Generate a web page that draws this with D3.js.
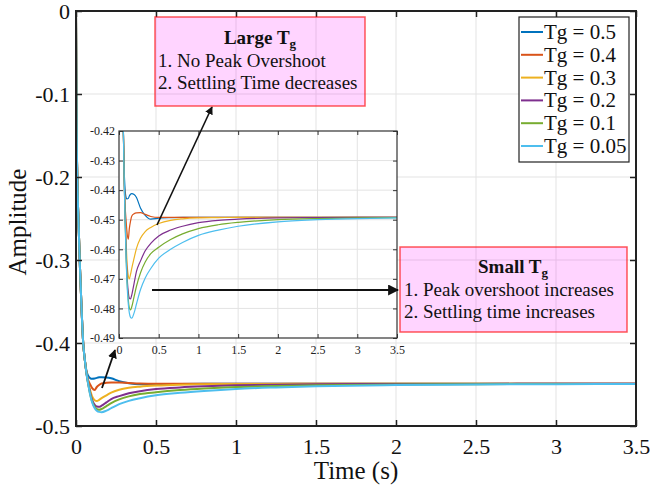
<!DOCTYPE html>
<html>
<head>
<meta charset="utf-8">
<script src="https://cdn.jsdelivr.net/npm/d3@7"></script>
<style>
  body { margin: 0; background: #fff; }
  svg { font-family: "Liberation Serif", "Times New Roman", serif; }
</style>
</head>
<body>
<svg width="650" height="491"></svg>
<script>
// Time samples (s)
const time = [0, 0.003, 0.008, 0.015, 0.025, 0.035, 0.045, 0.055, 0.065, 0.075, 0.09, 0.1, 0.117, 0.13, 0.145, 0.16, 0.19, 0.22, 0.27, 0.33, 0.4, 0.5, 0.65, 0.8, 1.0, 1.25, 1.5, 2.0, 2.5, 3.0, 3.5];

// Step responses
const tg05 = [0, -0.12, -0.2, -0.25, -0.31, -0.36, -0.40, -0.42, -0.433, -0.439, -0.4425, -0.443, -0.4428, -0.442, -0.4414, -0.4412, -0.4415, -0.4425, -0.446, -0.4485, -0.4498, -0.4495, -0.4493, -0.4492, -0.4492, -0.4492, -0.4492, -0.4492, -0.4492, -0.4492, -0.4492];
const tg04 = [0, -0.12, -0.2, -0.25, -0.31, -0.36, -0.40, -0.42, -0.435, -0.444, -0.4505, -0.454, -0.4566, -0.453, -0.4505, -0.4488, -0.448, -0.4477, -0.4476, -0.4482, -0.4489, -0.4492, -0.4492, -0.4492, -0.4492, -0.4492, -0.4492, -0.4492, -0.4492, -0.4492, -0.4492];
const tg03 = [0, -0.12, -0.2, -0.25, -0.31, -0.36, -0.40, -0.42, -0.435, -0.446, -0.458, -0.464, -0.469, -0.470, -0.4685, -0.4665, -0.463, -0.4597, -0.4563, -0.454, -0.4526, -0.4513, -0.4502, -0.4497, -0.4494, -0.4493, -0.4492, -0.4492, -0.4492, -0.4492, -0.4492];
const tg02 = [0, -0.12, -0.2, -0.25, -0.31, -0.36, -0.40, -0.42, -0.436, -0.447, -0.461, -0.468, -0.4745, -0.4765, -0.4768, -0.4755, -0.4715, -0.4675, -0.464, -0.4605, -0.458, -0.4555, -0.4535, -0.4522, -0.451, -0.4502, -0.4498, -0.4494, -0.4493, -0.4492, -0.4492];
const tg01 = [0, -0.12, -0.2, -0.25, -0.31, -0.36, -0.40, -0.42, -0.436, -0.448, -0.463, -0.470, -0.477, -0.4798, -0.4805, -0.4795, -0.476, -0.4725, -0.468, -0.4643, -0.4615, -0.4593, -0.4567, -0.4548, -0.453, -0.4517, -0.4509, -0.45, -0.4496, -0.4494, -0.4493];
const tg005 = [0, -0.12, -0.2, -0.25, -0.31, -0.36, -0.40, -0.42, -0.436, -0.448, -0.4635, -0.471, -0.4785, -0.4815, -0.483, -0.4833, -0.4815, -0.4785, -0.4737, -0.4697, -0.4665, -0.463, -0.46, -0.4577, -0.4553, -0.4535, -0.4522, -0.4507, -0.45, -0.4496, -0.4494];

const seriesNames = ["Tg = 0.5", "Tg = 0.4", "Tg = 0.3", "Tg = 0.2", "Tg = 0.1", "Tg = 0.05"];
const seriesValues = [tg05, tg04, tg03, tg02, tg01, tg005];
const colors = ["#0072BD", "#D95319", "#EDB120", "#7E2F8E", "#77AC30", "#4DBEEE"];

const xTicks = [0, 0.5, 1, 1.5, 2, 2.5, 3, 3.5];
const yTicks = [0, -0.1, -0.2, -0.3, -0.4, -0.5];
const insetYTicks = [-0.42, -0.43, -0.44, -0.45, -0.46, -0.47, -0.48, -0.49];

const series = seriesNames.map((name, i) => ({
    name: name,
    color: colors[i],
    points: time.map((t, j) => [t, seriesValues[i][j]])
}));

const svg = d3.select("svg");
const gridColor = "#e3e3e3";
const fmt = d => String(d); // plain hyphen minus, like MATLAB

// Main axes
const x = d3.scaleLinear().domain([0, 3.5]).range([76, 636]);
const y = d3.scaleLinear().domain([-0.5, 0]).range([426, 11]);

// Grid
svg.append("g").selectAll("line").data(xTicks.slice(1, -1)).enter().append("line")
    .attr("x1", d => x(d)).attr("x2", d => x(d)).attr("y1", 11).attr("y2", 426)
    .attr("stroke", gridColor).attr("stroke-width", 1);
svg.append("g").selectAll("line").data(yTicks.slice(1, -1)).enter().append("line")
    .attr("x1", 76).attr("x2", 636).attr("y1", d => y(d)).attr("y2", d => y(d))
    .attr("stroke", gridColor).attr("stroke-width", 1);

// Lines
const line = d3.line().x(d => x(d[0])).y(d => y(d[1])).curve(d3.curveMonotoneX);
svg.append("g").selectAll("path").data(series).enter().append("path")
    .attr("d", d => line(d.points))
    .attr("fill", "none")
    .attr("stroke", d => d.color)
    .attr("stroke-width", 2);

// Axes (ticks inward, box on)
const axisBottom = svg.append("g").attr("transform", "translate(0,426)")
    .call(d3.axisBottom(x).tickValues(xTicks).tickSizeInner(-6).tickSizeOuter(0).tickPadding(12).tickFormat(fmt));
const axisLeft = svg.append("g").attr("transform", "translate(76,0)")
    .call(d3.axisLeft(y).tickValues(yTicks).tickSizeInner(-6).tickSizeOuter(0).tickPadding(6).tickFormat(fmt));
svg.append("g").attr("transform", "translate(0,11)")
    .call(d3.axisTop(x).tickValues(xTicks).tickSizeInner(-6).tickSizeOuter(0).tickFormat(""));
svg.append("g").attr("transform", "translate(636,0)")
    .call(d3.axisRight(y).tickValues(yTicks).tickSizeInner(-6).tickSizeOuter(0).tickFormat(""));
svg.selectAll(".domain").remove();
svg.selectAll(".tick line").attr("stroke", "#222").attr("stroke-width", 1.5);
axisBottom.selectAll("text").attr("font-size", 22).attr("font-family", "Liberation Serif").attr("fill", "#111");
axisLeft.selectAll("text").attr("font-size", 22).attr("font-family", "Liberation Serif").attr("fill", "#111");
svg.append("rect").attr("x", 76).attr("y", 11).attr("width", 560).attr("height", 415)
    .attr("fill", "none").attr("stroke", "#222").attr("stroke-width", 2);

// Axis labels
svg.append("text").attr("x", 356).attr("y", 479).attr("text-anchor", "middle")
    .attr("font-size", 25).attr("fill", "#111").text("Time (s)");
svg.append("text").attr("transform", "translate(26,222) rotate(-90)").attr("text-anchor", "middle")
    .attr("font-size", 25).attr("fill", "#111").text("Amplitude");

// Inset
const ix = d3.scaleLinear().domain([0, 3.5]).range([119, 397]);
const iy = d3.scaleLinear().domain([-0.49, -0.42]).range([338, 131]);
const inset = svg.append("g");
inset.append("rect").attr("x", 119).attr("y", 131).attr("width", 278).attr("height", 207).attr("fill", "#fff");
inset.append("clipPath").attr("id", "insetClip").append("rect")
    .attr("x", 119).attr("y", 131).attr("width", 278).attr("height", 207);
inset.append("g").selectAll("line").data(xTicks.slice(1, -1)).enter().append("line")
    .attr("x1", d => ix(d)).attr("x2", d => ix(d)).attr("y1", 131).attr("y2", 338)
    .attr("stroke", gridColor).attr("stroke-width", 1);
inset.append("g").selectAll("line").data(insetYTicks.slice(1, -1)).enter().append("line")
    .attr("x1", 119).attr("x2", 397).attr("y1", d => iy(d)).attr("y2", d => iy(d))
    .attr("stroke", gridColor).attr("stroke-width", 1);
const iline = d3.line().x(d => ix(d[0])).y(d => iy(d[1])).curve(d3.curveMonotoneX);
inset.append("g").attr("clip-path", "url(#insetClip)").selectAll("path").data(series).enter().append("path")
    .attr("d", d => iline(d.points))
    .attr("fill", "none")
    .attr("stroke", d => d.color)
    .attr("stroke-width", 1.2);
const iBottom = inset.append("g").attr("transform", "translate(0,338)")
    .call(d3.axisBottom(ix).tickValues(xTicks).tickSizeInner(-4).tickSizeOuter(0).tickPadding(7).tickFormat(fmt));
const iLeft = inset.append("g").attr("transform", "translate(119,0)")
    .call(d3.axisLeft(iy).tickValues(insetYTicks).tickSizeInner(-4).tickSizeOuter(0).tickPadding(4).tickFormat(d => d.toFixed(2)));
inset.append("g").attr("transform", "translate(0,131)")
    .call(d3.axisTop(ix).tickValues(xTicks).tickSizeInner(-4).tickSizeOuter(0).tickFormat(""));
inset.append("g").attr("transform", "translate(397,0)")
    .call(d3.axisRight(iy).tickValues(insetYTicks).tickSizeInner(-4).tickSizeOuter(0).tickFormat(""));
inset.selectAll(".domain").remove();
inset.selectAll(".tick line").attr("stroke", "#333").attr("stroke-width", 1);
inset.selectAll(".tick text").attr("font-size", 12).attr("font-family", "Liberation Serif").attr("fill", "#222");
inset.append("rect").attr("x", 119).attr("y", 131).attr("width", 278).attr("height", 207)
    .attr("fill", "none").attr("stroke", "#333").attr("stroke-width", 1.2);

// Arrows
const defs = svg.append("defs");
defs.append("marker").attr("id", "arrow").attr("viewBox", "0 0 10 10")
    .attr("refX", 9).attr("refY", 5).attr("markerWidth", 5).attr("markerHeight", 5)
    .attr("orient", "auto").append("path").attr("d", "M0,0 L10,5 L0,10 z").attr("fill", "#111");
const arrows = [
    { x1: 157, y1: 225, x2: 212, y2: 107, w: 1.6 },
    { x1: 152, y1: 290, x2: 398, y2: 290, w: 2.2 },
    { x1: 102, y1: 388, x2: 115, y2: 350, w: 1.8 }
];
svg.append("g").selectAll("line").data(arrows).enter().append("line")
    .attr("x1", d => d.x1).attr("y1", d => d.y1).attr("x2", d => d.x2).attr("y2", d => d.y2)
    .attr("stroke", "#111").attr("stroke-width", d => d.w).attr("marker-end", "url(#arrow)");

// Annotation boxes
function noteBox(bx, by, bw, bh, title, lines, cx, baseY, lx) {
    const g = svg.append("g");
    g.append("rect").attr("x", bx).attr("y", by).attr("width", bw).attr("height", bh)
        .attr("fill", "rgba(255,0,255,0.17)").attr("stroke", "rgba(255,0,0,0.65)").attr("stroke-width", 1.5);
    const t = g.append("text").attr("x", cx).attr("y", baseY).attr("text-anchor", "middle")
        .attr("font-size", 19).attr("font-weight", "bold").attr("fill", "#111");
    t.append("tspan").text(title);
    t.append("tspan").attr("dy", 4).attr("font-size", 13).text("g");
    lines.forEach((s, i) => {
        g.append("text").attr("x", lx).attr("y", baseY + 23 + i * 22)
            .attr("font-size", 19).attr("fill", "#111").text(s);
    });
}
noteBox(155, 17, 210, 89, "Large T", ["1. No Peak Overshoot", "2. Settling Time decreases"], 260, 44, 158);
noteBox(400, 247, 227, 85, "Small T", ["1. Peak overshoot increases", "2. Settling time increases"], 513, 273, 404);

// Legend
const legend = svg.append("g");
legend.append("rect").attr("x", 519).attr("y", 17).attr("width", 110).attr("height", 145)
    .attr("fill", "#fff").attr("stroke", "#222").attr("stroke-width", 1.2);
const item = legend.selectAll("g.item").data(series).enter().append("g").attr("class", "item")
    .attr("transform", (d, i) => `translate(0,${32 + i * 22.8})`);
item.append("line").attr("x1", 521).attr("x2", 543).attr("y1", 0).attr("y2", 0)
    .attr("stroke", d => d.color).attr("stroke-width", 2);
item.append("text").attr("x", 544).attr("y", 7).attr("font-size", 21).attr("fill", "#111").text(d => d.name);
</script>
</body>
</html>
